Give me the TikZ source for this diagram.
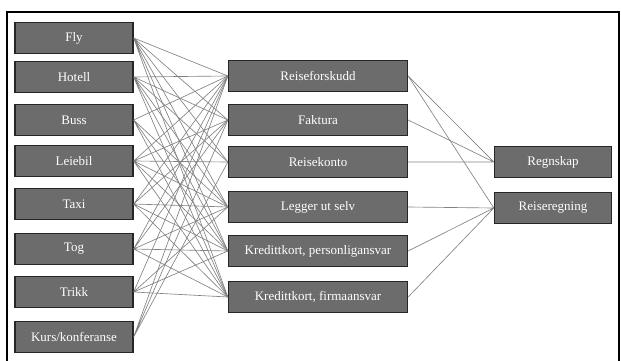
\documentclass[tikz,border=0pt]{standalone}
\usepackage{fontspec}
\setmainfont{Liberation Serif}
\usepackage{xcolor}
\usepackage{tikz}
\definecolor{boxgray}{RGB}{108,108,108}
\definecolor{linegray}{RGB}{130,130,130}

\begin{document}
\begin{tikzpicture}[x=1pt, y=-1pt, every node/.style={draw=black!85, line width=1.3pt, fill=boxgray, text=white, font=\fontsize{13}{15}\selectfont, minimum height=31pt, inner sep=0pt, align=center}, conn/.style={draw=linegray, line width=0.65pt}]
\useasboundingbox (0,0) rectangle (621,361);
\draw[line width=1.2pt] (7,12) rectangle (619,362);
% sources
\node[minimum width=118pt] (fly) at (74,38) {Fly};
\node[minimum width=118pt] (hotell) at (74,77) {Hotell};
\node[minimum width=118pt] (buss) at (74,120) {Buss};
\node[minimum width=118pt] (leiebil) at (74,161) {Leiebil};
\node[minimum width=118pt] (taxi) at (74,204) {Taxi};
\node[minimum width=118pt] (tog) at (74,249) {Tog};
\node[minimum width=118pt] (trikk) at (74,292) {Trikk};
\node[minimum width=118pt] (kurs) at (74,337) {Kurs/konferanse};
% payment
\node[minimum width=179pt] (forskudd) at (318,76) {Reiseforskudd};
\node[minimum width=179pt] (faktura) at (318,120) {Faktura};
\node[minimum width=179pt] (konto) at (318,162) {Reisekonto};
\node[minimum width=179pt] (utlegg) at (318,207) {Legger ut selv};
\node[minimum width=179pt] (kpers) at (318,251) {Kredittkort, personligansvar};
\node[minimum width=179pt] (kfirma) at (318,297) {Kredittkort, firmaansvar};
% targets
\node[minimum width=117pt] (regnskap) at (553,162) {Regnskap};
\node[minimum width=117pt] (regning) at (553,208) {Reiseregning};
% sources to payment
\draw[conn] (fly.east) -- (forskudd.west) (fly.east) -- (faktura.west) (fly.east) -- (konto.west) (fly.east) -- (utlegg.west) (fly.east) -- (kpers.west) (fly.east) -- (kfirma.west);
\draw[conn] (hotell.east) -- (forskudd.west) (hotell.east) -- (faktura.west) (hotell.east) -- (konto.west) (hotell.east) -- (utlegg.west) (hotell.east) -- (kpers.west) (hotell.east) -- (kfirma.west);
\draw[conn] (buss.east) -- (forskudd.west) (buss.east) -- (utlegg.west) (buss.east) -- (kpers.west) (buss.east) -- (kfirma.west);
\draw[conn] (leiebil.east) -- (forskudd.west) (leiebil.east) -- (faktura.west) (leiebil.east) -- (konto.west) (leiebil.east) -- (utlegg.west) (leiebil.east) -- (kpers.west) (leiebil.east) -- (kfirma.west);
\draw[conn] (taxi.east) -- (forskudd.west) (taxi.east) -- (faktura.west) (taxi.east) -- (utlegg.west) (taxi.east) -- (kpers.west) (taxi.east) -- (kfirma.west);
\draw[conn] (tog.east) -- (forskudd.west) (tog.east) -- (faktura.west) (tog.east) -- (utlegg.west) (tog.east) -- (kpers.west) (tog.east) -- (kfirma.west);
\draw[conn] (trikk.east) -- (forskudd.west) (trikk.east) -- (utlegg.west) (trikk.east) -- (kpers.west) (trikk.east) -- (kfirma.west);
\draw[conn] (kurs.east) -- (forskudd.west) (kurs.east) -- (faktura.west) (kurs.east) -- (konto.west);
% payment to targets
\draw[conn] (forskudd.east) -- (regnskap.west) (faktura.east) -- (regnskap.west) (konto.east) -- (regnskap.west);
\draw[conn] (forskudd.east) -- (regning.west) (utlegg.east) -- (regning.west) (kpers.east) -- (regning.west) (kfirma.east) -- (regning.west);
\end{tikzpicture}
\end{document}
